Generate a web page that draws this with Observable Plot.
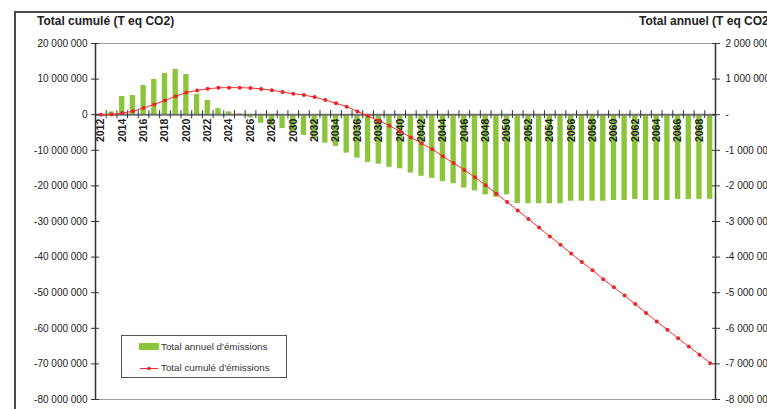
<!DOCTYPE html>
<html>
<head>
<meta charset="utf-8">
<script src="https://cdn.jsdelivr.net/npm/d3@7"></script>
<script src="https://cdn.jsdelivr.net/npm/@observablehq/plot@0.6"></script>
<style>
  html, body { margin: 0; padding: 0; background: #fff; }
  #wrap { position: relative; width: 767px; height: 409px; overflow: hidden; font-family: "Liberation Sans", Arial, sans-serif; }
  #frame { position: absolute; left: 14px; top: 11px; width: 900px; height: 600px; border-left: 2px solid #4a4a4a; border-top: 2px solid #4a4a4a; }
  .title { position: absolute; top: 14px; font-weight: bold; font-size: 12px; color: #222; white-space: nowrap; line-height: 14px; }
  #legend { position: absolute; left: 121px; top: 335px; width: 164px; height: 41px; border: 1px solid #555; background: #fff; font-size: 9.8px; color: #333; }
  #legend .row { position: absolute; left: 0; height: 12px; line-height: 12px; white-space: nowrap; }
  #chart { position: absolute; left: 0; top: 0; }
</style>
</head>
<body>
<div id="wrap">
  <div id="chart"></div>
  <div id="frame"></div>
  <div class="title" style="left:37px;">Total cumulé (T eq CO2)</div>
  <div class="title" style="left:639px;">Total annuel (T eq CO2)</div>
  <div id="legend">
    <div class="row" style="top:5px;"><span style="display:inline-block;position:absolute;left:17px;top:2px;width:20px;height:7px;background:#8cc43c;"></span><span style="position:absolute;left:39px;">Total annuel d'émissions</span></div>
    <div class="row" style="top:26px;"><svg style="position:absolute;left:18px;top:0;" width="20" height="12"><line x1="0" y1="6.5" x2="18" y2="6.5" stroke="#ff2a2a" stroke-width="1"/><circle cx="9" cy="6.5" r="1.8" fill="#e8262a"/></svg><span style="position:absolute;left:39px;">Total cumulé d'émissions</span></div>
  </div>
</div>
<script>
// ---- Data (tonnes eq CO2) ----
const years = [2012,2013,2014,2015,2016,2017,2018,2019,2020,2021,2022,2023,2024,2025,2026,2027,2028,2029,
  2030,2031,2032,2033,2034,2035,2036,2037,2038,2039,2040,2041,2042,2043,2044,2045,2046,2047,2048,2049,
  2050,2051,2052,2053,2054,2055,2056,2057,2058,2059,2060,2061,2062,2063,2064,2065,2066,2067,2068,2069];

// Total annuel d'émissions (right axis)
const annual = [0, 80000, 510000, 540000, 820000, 990000, 1160000, 1270000, 1130000, 570000, 400000, 170000, 80000, 20000,
  -90000, -240000, -310000, -390000, -480000, -580000, -670000, -800000, -890000, -1080000, -1220000, -1340000,
  -1390000, -1480000, -1520000, -1640000, -1730000, -1790000, -1880000, -1940000, -2060000, -2140000, -2250000,
  -2320000, -2250000, -2500000, -2500000, -2500000, -2500000, -2500000, -2430000, -2430000, -2430000, -2430000,
  -2410000, -2410000, -2380000, -2410000, -2410000, -2410000, -2380000, -2380000, -2380000, -2380000];

// Total cumulé d'émissions (left axis)
const cumulative = [0, 50000, 450000, 950000, 1900000, 2900000, 4000000, 5200000, 6250000, 6800000, 7300000, 7550000,
  7600000, 7600000, 7500000, 7250000, 6900000, 6350000, 5900000, 5500000, 4950000, 4100000, 3200000, 2250000,
  930000, -400000, -1700000, -3100000, -4700000, -6400000, -8000000, -9700000, -11700000, -13600000, -15500000,
  -17600000, -19800000, -22200000, -24500000, -26900000, -29300000, -31700000, -34200000, -36500000, -39000000,
  -41400000, -43700000, -46200000, -48500000, -50800000, -53200000, -55700000, -58100000, -60400000, -62800000,
  -65100000, -67400000, -69800000];

// Tick labels
const xTickYears = [2012,2014,2016,2018,2020,2022,2024,2026,2028,2030,2032,2034,2036,2038,2040,2042,2044,2046,
  2048,2050,2052,2054,2056,2058,2060,2062,2064,2066,2068];
const leftTicks = [20000000, 10000000, 0, -10000000, -20000000, -30000000, -40000000, -50000000, -60000000, -70000000, -80000000];
const rightTicks = [2000000, 1000000, 0, -1000000, -2000000, -3000000, -4000000, -5000000, -6000000, -7000000, -8000000];

const RATIO = 10; // left (cumulé) units per right (annuel) unit

const data = years.map((year, i) => ({year, annual: annual[i], cum: cumulative[i]}));

const locale = d3.formatLocale({decimal: ",", thousands: " ", grouping: [3], currency: ["", ""], minus: "-"});
const fmt = locale.format(",d");

const W = 767, H = 409, mL = 95, mR = 52, mT = 43, mB = 10;
const step = (W - mL - mR) / years.length;

const chart = Plot.plot({
  width: W, height: H,
  marginLeft: mL, marginRight: mR, marginTop: mT, marginBottom: mB,
  style: {fontFamily: "'Liberation Sans', Arial, sans-serif", fontSize: "10px", color: "#222", background: "transparent", overflow: "visible"},
  x: {type: "band", domain: years, paddingInner: 0.5, paddingOuter: 0.25, axis: null},
  y: {domain: [-80000000, 20000000], axis: null},
  marks: [
    Plot.ruleY([leftTicks[0], leftTicks[leftTicks.length - 1]], {stroke: "#a0a0a0", strokeWidth: 1}),
    Plot.barY(data, {x: "year", y: d => d.annual * RATIO, fill: "#8cc43c"}),
    Plot.ruleY([0], {stroke: "#707070", strokeWidth: 2}),
    Plot.ruleX(years, {x: d => d, y1: 0, y2: 0, insetTop: -4, insetBottom: -4, dx: -step / 2, stroke: "#333", strokeWidth: 1}),
    Plot.text(xTickYears, {x: d => d, y: 0, text: d => String(d), rotate: -90, textAnchor: "end", dy: 4, fontWeight: "bold", fontSize: 10.5, fill: "#222"}),
    Plot.line(data, {x: "year", y: "cum", stroke: "#ff2a2a", strokeWidth: 1}),
    Plot.dot(data, {x: "year", y: "cum", r: 2, fill: "#e8262a", stroke: "none"}),
    Plot.ruleX([years[0]], {dx: -step / 2, stroke: "#333", strokeWidth: 1.5}),
    Plot.ruleX([years[years.length - 1]], {dx: step / 2, stroke: "#333", strokeWidth: 1.5}),
    Plot.axisY(leftTicks, {anchor: "left", label: null, tickSize: 8, insetLeft: 4, tickPadding: 4, tickFormat: d => fmt(d), stroke: "#333", fill: "#222"}),
    Plot.axisY(rightTicks.map(v => v * RATIO), {anchor: "right", label: null, tickSize: 8, insetRight: 4, tickPadding: 6, tickFormat: d => d === 0 ? "-" : fmt(d / RATIO), stroke: "#333", fill: "#222"})
  ]
});
document.getElementById("chart").appendChild(chart);
</script>
</body>
</html>
